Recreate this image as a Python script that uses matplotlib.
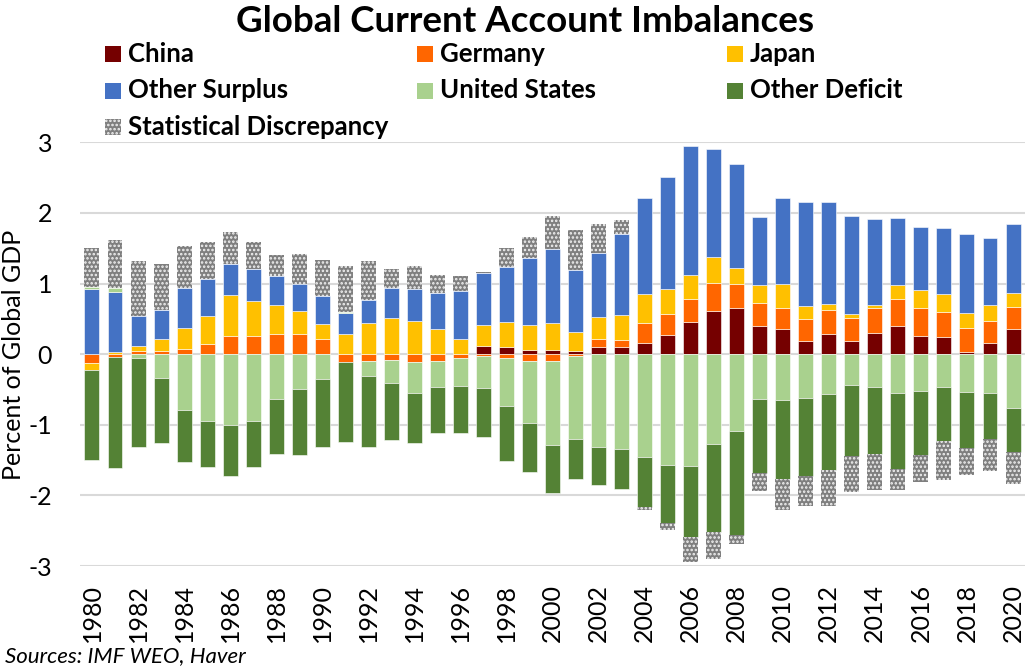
import matplotlib
matplotlib.use("Agg")
import matplotlib.pyplot as plt
from matplotlib.patches import Rectangle
import numpy as np

plt.rcParams['font.family'] = ['Lato', 'DejaVu Sans']
plt.rcParams['hatch.linewidth'] = 1.2

years = list(range(1980, 2021))
series_names = ["China", "Germany", "Japan", "Other Surplus", "United States",
                "Other Deficit", "Statistical Discrepancy"]

china = [0, 0, 0, 0, 0, 0, 0, 0, 0, 0, 0, 0, 0, 0, 0, 0, 0, 0.11, 0.10, 0.06,
         0.06, 0.047, 0.10, 0.10, 0.16, 0.275, 0.45, 0.605, 0.655, 0.40,
         0.36, 0.185, 0.29, 0.19, 0.30, 0.40, 0.26, 0.24, 0.03, 0.16, 0.355]
germany = [-0.13, -0.04, 0.05, 0.04, 0.075, 0.14, 0.26, 0.26, 0.29, 0.29,
           0.21, -0.11, -0.095, -0.08, -0.11, -0.10, -0.05, -0.03, -0.05, -0.095,
           -0.10, -0.02, 0.11, 0.10, 0.28, 0.29, 0.335, 0.405, 0.34, 0.325,
           0.30, 0.315, 0.34, 0.325, 0.355, 0.385, 0.395, 0.36, 0.34, 0.31, 0.31]
japan = [-0.095, 0.03, 0.065, 0.18, 0.29, 0.405, 0.575, 0.49, 0.41, 0.315,
         0.21, 0.29, 0.44, 0.51, 0.465, 0.355, 0.21, 0.30, 0.36, 0.355,
         0.385, 0.265, 0.315, 0.36, 0.415, 0.355, 0.34, 0.365, 0.22, 0.25,
         0.335, 0.18, 0.075, 0.055, 0.04, 0.19, 0.26, 0.25, 0.21, 0.22, 0.20]
other_surplus = [0.925, 0.85, 0.43, 0.40, 0.57, 0.52, 0.44, 0.46, 0.40, 0.39,
                 0.405, 0.29, 0.325, 0.43, 0.46, 0.51, 0.69, 0.745, 0.78, 0.94,
                 1.04, 0.885, 0.905, 1.135, 1.35, 1.585, 1.82, 1.525, 1.48, 0.97,
                 1.215, 1.475, 1.445, 1.38, 1.22, 0.95, 0.885, 0.935, 1.12, 0.955, 0.975]
united_states = [0.03, 0.05, -0.05, -0.335, -0.79, -0.95, -1.0, -0.95, -0.64, -0.495,
                 -0.35, 0.015, -0.21, -0.33, -0.445, -0.37, -0.40, -0.45, -0.685, -0.88,
                 -1.19, -1.175, -1.31, -1.34, -1.45, -1.575, -1.585, -1.27, -1.095, -0.63,
                 -0.65, -0.62, -0.56, -0.44, -0.465, -0.55, -0.525, -0.46, -0.535, -0.55, -0.765]
other_deficit = [-1.27, -1.57, -1.26, -0.93, -0.74, -0.645, -0.72, -0.645, -0.77, -0.935,
                 -0.97, -1.14, -1.01, -0.80, -0.70, -0.65, -0.665, -0.69, -0.78, -0.70,
                 -0.67, -0.57, -0.54, -0.57, -0.72, -0.82, -1.005, -1.25, -1.47, -1.055,
                 -1.12, -1.10, -1.085, -1.005, -0.95, -1.08, -0.905, -0.765, -0.79, -0.655, -0.62]
stat_discrepancy = [0.545, 0.68, 0.77, 0.65, 0.6, 0.53, 0.46, 0.38, 0.30, 0.43,
                    0.505, 0.66, 0.56, 0.27, 0.33, 0.25, 0.21, 0.015, 0.265, 0.31,
                    0.475, 0.565, 0.415, 0.21, -0.035, -0.10, -0.355, -0.38, -0.13, -0.26,
                    -0.435, -0.43, -0.50, -0.505, -0.505, -0.29, -0.375, -0.56, -0.38, -0.445, -0.455]

colors = ["#750000", "#FF6600", "#FFC000", "#4472C4", "#A9D18E", "#548235", "#7F7F7F"]
all_series = [china, germany, japan, other_surplus, united_states, other_deficit, stat_discrepancy]

W, H = 1028, 668
fig = plt.figure(figsize=(W / 100, H / 100), dpi=100)
ax = fig.add_axes([80 / W, 1 - 566 / H, (1025 - 80) / W, (566 - 142.3) / H])

x = np.arange(len(years))
pos_bottom = np.zeros(len(years))
neg_bottom = np.zeros(len(years))
for name, vals, col in zip(series_names, all_series, colors):
    v = np.array(vals, dtype=float)
    bottoms = np.where(v >= 0, pos_bottom, neg_bottom)
    if name == "Statistical Discrepancy":
        ax.bar(x, v, bottom=bottoms, width=0.65, color=col, edgecolor="#F2F2F2",
               hatch="....", linewidth=0.0, zorder=3)
    else:
        ax.bar(x, v, bottom=bottoms, width=0.65, color=col, edgecolor="white",
               linewidth=0.4, zorder=3)
    pos_bottom = pos_bottom + np.where(v >= 0, v, 0)
    neg_bottom = neg_bottom + np.where(v < 0, v, 0)

ax.set_xlim(-0.52, len(years) - 0.48)
ax.set_ylim(-3, 3)
ax.set_yticks([-3, -2, -1, 0, 1, 2, 3])
ax.set_yticklabels(["-3", "-2", "-1", "0", "1", "2", "3"])
ax.yaxis.grid(True, color="#D9D9D9", linewidth=1.5, zorder=0)
ax.set_axisbelow(True)
for s in ax.spines.values():
    s.set_visible(False)
ax.tick_params(axis="y", length=0, pad=20, labelsize=18)
even_idx = [i for i, y in enumerate(years) if y % 2 == 0]
ax.set_xticks(even_idx)
ax.set_xticklabels([str(years[i]) for i in even_idx], rotation=90)
ax.tick_params(axis="x", length=0, pad=13, labelsize=18)

fig.text(14 / W, 1 - 355 / H, "Percent of Global GDP", rotation=90,
         ha="center", va="center", fontsize=18)

fig.text(525 / W, 1 - 32 / H, "Global Current Account Imbalances",
         ha="center", va="baseline", fontsize=26.5, fontweight="bold")

# legend
col_x = [105, 417, 727]
row_y = [62, 98.5, 135]
layout = [(0, 0), (1, 0), (2, 0), (0, 1), (1, 1), (2, 1), (0, 2)]
for (cx, ry), name, col in zip(layout, series_names, colors):
    px, py = col_x[cx], row_y[ry]
    hatch = "...." if name == "Statistical Discrepancy" else None
    rect = Rectangle((px / W, 1 - py / H), 16 / W, 16 / H, transform=fig.transFigure,
                     facecolor=col, edgecolor="#F2F2F2" if hatch else "none",
                     linewidth=0, hatch=hatch)
    fig.patches.append(rect)
    fig.text((px + 23) / W, 1 - py / H, name, ha="left", va="baseline",
             fontsize=18.5, fontweight="bold")

fig.text(5 / W, 1 - 662 / H, "Sources: IMF WEO, Haver", ha="left", va="baseline",
         fontsize=16, fontstyle="italic")

fig.savefig("out.png", dpi=100)
